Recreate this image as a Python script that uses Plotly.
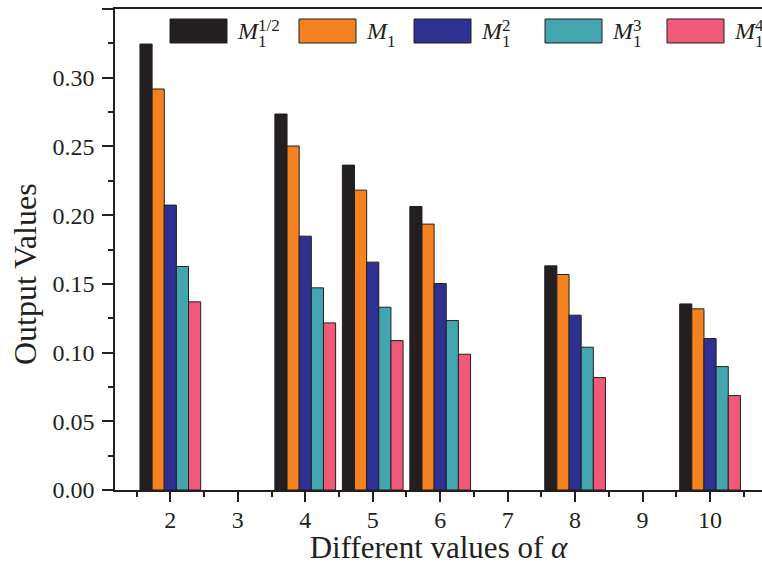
import plotly.graph_objects as go

# ---- data ----
alpha = [2, 4, 5, 6, 8, 10]
series_names = ["M_half", "M1", "M1_2", "M1_3", "M1_4"]
label_sub = ["1", "1", "1", "1", "1"]
label_sup = ["1/2", "", "2", "3", "4"]
m_half = [0.3245, 0.2736, 0.2364, 0.2063, 0.1631, 0.1354]
m1 = [0.2918, 0.2503, 0.2182, 0.1935, 0.1568, 0.1318]
m1_2 = [0.2073, 0.1847, 0.1658, 0.1502, 0.1272, 0.1102]
m1_3 = [0.1626, 0.1471, 0.1330, 0.1233, 0.1039, 0.0898]
m1_4 = [0.1369, 0.1216, 0.1087, 0.0988, 0.0818, 0.0687]
x_ticks = [2, 3, 4, 5, 6, 7, 8, 9, 10]

values = [m_half, m1, m1_2, m1_3, m1_4]
colors = ["#231f20", "#f58220", "#2e3192", "#43a5ae", "#f05a78"]

FONT = "Liberation Serif"
EDGE = "#231f20"
TXT = "#231f20"

fig = go.Figure()
for name, vals, col in zip(series_names, values, colors):
    fig.add_trace(go.Bar(
        x=alpha, y=vals, name=name,
        marker=dict(color=col, line=dict(color=EDGE, width=1)),
        showlegend=False,
    ))

# custom legend (large swatches like reference)
W, H = 762, 565
L, R, T, B = 115, 0, 9, 75
pw, ph = W - L - R, H - T - B
sw_left = [170, 299, 414, 545, 667]
sw_w = 57
sw_top, sw_bot = 19, 43
M_W = 21
shapes = []
annotations = []


def px_x(p):
    return (p - L) / pw


def px_y(p):
    return (H - B - p) / ph


for i, col in enumerate(colors):
    shapes.append(dict(type="rect", xref="paper", yref="paper",
                       x0=px_x(sw_left[i]), x1=px_x(sw_left[i] + sw_w),
                       y0=px_y(sw_bot), y1=px_y(sw_top),
                       fillcolor=col, line=dict(color=EDGE, width=1)))
    mx = sw_left[i] + sw_w + 9
    annotations.append(dict(xref="paper", yref="paper", x=px_x(mx), y=px_y(31),
                            xanchor="left", yanchor="middle", text="<i>M</i>",
                            showarrow=False, borderpad=0,
                            font=dict(family=FONT, size=24, color=TXT)))
    annotations.append(dict(xref="paper", yref="paper", x=px_x(mx + M_W),
                            y=px_y(42), xanchor="left", yanchor="middle",
                            text=label_sub[i], showarrow=False,
                            height=13, borderpad=0,
                            font=dict(family=FONT, size=17, color=TXT)))
    if label_sup[i]:
        annotations.append(dict(xref="paper", yref="paper", x=px_x(mx + M_W),
                                y=px_y(25), xanchor="left", yanchor="middle",
                                text=label_sup[i], showarrow=False,
                                height=13, borderpad=0,
                                font=dict(family=FONT, size=17, color=TXT)))

# y-axis title as annotation (reference places it slightly below centre)
annotations.append(dict(xref="paper", yref="paper", x=px_x(25), y=px_y(274),
                        xanchor="center", yanchor="middle", textangle=-90,
                        text="Output Values", showarrow=False,
                        font=dict(family=FONT, size=32, color=TXT)))

fig.update_layout(
    width=W, height=H,
    margin=dict(l=L, r=R, t=T, b=B, autoexpand=False),
    paper_bgcolor="white", plot_bgcolor="white",
    barmode="group", bargap=0.1, bargroupgap=0,
    font=dict(family=FONT, size=24, color=TXT),
    shapes=shapes, annotations=annotations,
)
fig.update_xaxes(
    range=[1.18, 10.77],
    tickvals=x_ticks, ticktext=[str(v) for v in x_ticks],
    ticks="outside", ticklen=10, tickwidth=1.5, tickcolor=TXT,
    minor=dict(tickvals=[v + 0.5 for v in [1] + x_ticks], ticks="outside",
               ticklen=5, tickwidth=1.5, tickcolor=TXT),
    showline=True, linecolor=TXT, linewidth=1.5, mirror=True,
    showgrid=False, zeroline=False,
    tickfont=dict(family=FONT, size=24),
    ticklabelstandoff=-3,
    title=dict(text="Different values of <i>α</i>",
               font=dict(family=FONT, size=31), standoff=2),
)
fig.update_yaxes(
    range=[0, 0.35], dtick=0.05, tick0=0, tickformat=".2f",
    ticks="outside", ticklen=11, tickwidth=1.5, tickcolor=TXT,
    minor=dict(dtick=0.025, ticks="outside", ticklen=5, tickwidth=1.5,
               tickcolor=TXT),
    showline=True, linecolor=TXT, linewidth=1.5, mirror=False,
    showgrid=False, zeroline=False,
    tickfont=dict(family=FONT, size=24),
    ticklabelstandoff=3,
)

fig.write_html(
    "out.html",
    config={"displayModeBar": False},
    post_script="document.body.style.margin='0';document.body.style.padding='0';",
)
